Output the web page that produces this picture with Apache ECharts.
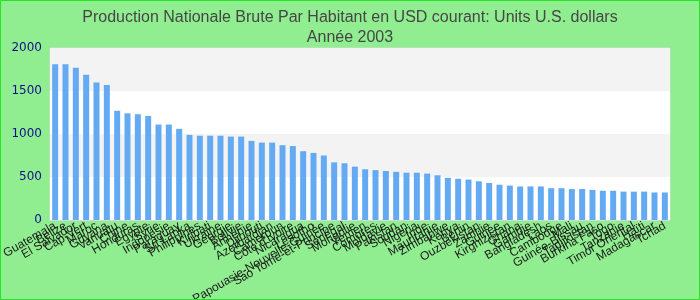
<!DOCTYPE html>
<html>
<head>
<meta charset="utf-8">
<script src="https://cdn.jsdelivr.net/npm/echarts@6/dist/echarts.min.js"></script>
<style>
html,body{margin:0;padding:0;background:#90EE90;}
#chart{width:700px;height:300px;}
</style>
</head>
<body>
<div id="chart"></div>
<script>
var titleLines = ["Production Nationale Brute Par Habitant en USD courant: Units U.S. dollars", "Année 2003"];
var countries = ["Guatemala","Belize","El Salvador","Cap-Vert","Maroc","Guyana","Vanuatu","Chine","Honduras","Égypte",
"Syrie","Indonésie","Paraguay","Sri Lanka","Philippines","Kiribati","Ukraine","Géorgie","Bolivie","Arménie",
"Djibouti","Azerbaïdjan","Cameroun","Côte d'Ivoire","Nicaragua","Lesotho","Papouasie-Nouvelle-Guinée","Sao Tomé-et-Principe","Sénégal","Mongolie",
"Yémen","Comores","Moldavie","Pakistan","Soudan","Nigeria","Inde","Mauritanie","Zimbabwe","Kenya",
"Bénin","Ouzbékistan","Zambie","Guinée","Kirghizistan","Ghana","Gambie","Bangladesh","Laos","Cambodge",
"Mali","Guinée-Bissau","Tadjikistan","Burkina Faso","Togo","Tanzanie","Timor Oriental","Haïti","Madagascar","Tchad"];
var values = [1810,1810,1770,1690,1600,1570,1270,1240,1230,1210,
1110,1110,1060,990,980,980,980,970,970,920,
900,900,870,860,800,780,750,670,660,620,
590,580,570,560,550,550,540,520,490,480,
470,450,430,410,400,390,390,390,370,370,
360,360,350,340,340,330,330,330,320,320];
var yTicks = {min:0, max:2000, interval:500};

var chart = echarts.init(document.getElementById('chart'));
chart.setOption({
  backgroundColor: '#90EE90',
  animation: false,
  title: {
    text: titleLines.join('\n'),
    left: 'center',
    top: 3,
    textStyle: {fontFamily: 'Liberation Sans, Arial, sans-serif', fontSize: 16, fontWeight: 'normal', color: '#464646', lineHeight: 20}
  },
  graphic: [{
    type: 'rect', silent: true, z: 100,
    shape: {x: 0.5, y: 0.5, width: 699, height: 299},
    style: {fill: 'none', stroke: '#22e622', lineWidth: 1}
  }],
  grid: {left: 50, right: 30, top: 48, bottom: 80, containLabel: false, outerBoundsMode: 'none', show: true, borderColor: '#d8d8d8', borderWidth: 1},
  xAxis: {
    type: 'category',
    data: countries,
    axisTick: {show: false},
    axisLine: {show: true, lineStyle: {color: '#d8d8d8'}},
    axisLabel: {interval: 0, rotate: 30, fontSize: 12, color: '#1a1a1a', margin: 5, fontFamily: 'Liberation Sans, Arial, sans-serif', hideOverlap: false}
  },
  yAxis: {
    type: 'value',
    min: yTicks.min, max: yTicks.max, interval: yTicks.interval,
    axisLine: {show: false},
    axisTick: {show: false},
    splitLine: {show: false},
    splitArea: {show: true, areaStyle: {color: ['#ffffff', '#f3f3f3']}},
    axisLabel: {fontSize: 12, color: '#10108c', margin: 8, fontFamily: 'DejaVu Sans, sans-serif', formatter: function (v) { return String(v); }}
  },
  series: [{
    type: 'bar',
    data: values,
    barWidth: '58%',
    itemStyle: {color: '#63aaf3'}
  }]
});
</script>
</body>
</html>
